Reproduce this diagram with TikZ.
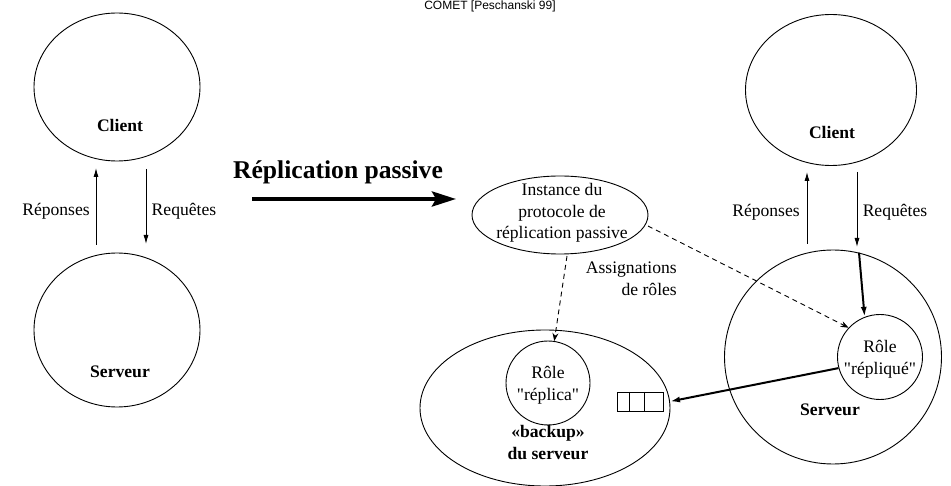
\documentclass[tikz,border=0pt]{standalone}
\usepackage{fontspec}
\setmainfont{Liberation Serif}
\newfontfamily\titlefont{Liberation Sans}
\usetikzlibrary{shapes.geometric,arrows.meta}

\begin{document}
\begin{tikzpicture}[x=1pt,y=-1pt,
  entity/.style={draw, ellipse, line width=0.9pt, inner sep=0pt},
  rolecircle/.style={draw, circle, line width=0.9pt, inner sep=0pt, minimum size=85pt},
  txt/.style={font=\fontsize{17.6}{21.5}\selectfont, align=center, inner sep=0pt},
  boldtxt/.style={txt, font=\fontsize{17.6}{21.5}\selectfont\bfseries},
  flow/.style={-{Latex[length=9pt,width=5pt]}, line width=0.9pt},
  heavyflow/.style={-{Latex[length=10pt,width=6pt]}, line width=2pt},
  assign/.style={-{Stealth[length=8pt,width=6pt]}, line width=0.9pt, dash pattern=on 5pt off 4pt},
  bigarrow/.style={-{Stealth[length=24pt,width=15pt,inset=4pt]}, line width=4pt}
]
\useasboundingbox (0,0) rectangle (951,486);

% title
\node[font=\titlefont\fontsize{12}{14}\selectfont, anchor=base, inner sep=0pt] (title) at (490,10) {COMET [Peschanski 99]};

% ---- classic client / server ----
\node[entity, minimum width=166pt, minimum height=148pt] (lclient) at (117,87) {};
\node[boldtxt] (lclientlbl) at (120,125) {Client};
\node[entity, minimum width=166pt, minimum height=154pt] (lserver) at (117,330) {};
\node[boldtxt] (lserverlbl) at (120,372) {Serveur};

\coordinate (lrepA) at (96,245);  \coordinate (lrepB) at (96,168);
\coordinate (lreqA) at (146,169); \coordinate (lreqB) at (146,244);
\draw[flow] (lrepA) -- (lrepB);
\draw[flow] (lreqA) -- (lreqB);
\node[txt] (lrep) at (56,211) {Réponses};
\node[txt] (lreq) at (184,211) {Requêtes};

% ---- transformation ----
\node[txt, font=\fontsize{25.6}{30}\selectfont\bfseries] (passive) at (338,172) {Réplication passive};
\coordinate (bigA) at (252,199); \coordinate (bigB) at (456,199);
\draw[bigarrow] (bigA) -- (bigB);

% ---- protocol instance ----
\node[entity, minimum width=176pt, minimum height=78pt] (inst) at (560,215) {};
\node[txt] (instlbl) at (562,213) {Instance du\\protocole de\\réplication passive};
\node[txt, align=right, anchor=east] (assignlbl) at (677,279) {Assignations\\de rôles};

% ---- backup ----
\node[entity, minimum width=250pt, minimum height=156pt] (backup) at (545,408) {};
\node[rolecircle, minimum size=84pt] (replica) at (548,383) {};
\node[txt] (replicalbl) at (548,385.5) {Rôle\\\textquotedbl réplica\textquotedbl};
\node[boldtxt] (backuplbl) at (548,442.5) {«backup»\\du serveur};

% message queue
\draw[line width=0.9pt] (617,392) rectangle (663,411);
\draw[line width=0.9pt] (629,392) -- (629,411) (644,392) -- (644,411);

% ---- replicated server ----
\node[entity, minimum width=171pt, minimum height=151pt] (rclient) at (831,90) {};
\node[boldtxt] (rclientlbl) at (832,132) {Client};
\node[entity, minimum width=217pt, minimum height=214pt] (rserver) at (833,357) {};
\node[boldtxt] (rserverlbl) at (830,410) {Serveur};
\node[rolecircle] (repl) at (880,357) {};
\node[txt] (repllbl) at (880,359.5) {Rôle\\\textquotedbl répliqué\textquotedbl};

\coordinate (rrepA) at (807,244); \coordinate (rrepB) at (807,172);
\coordinate (rreqA) at (857,172); \coordinate (rreqB) at (857,247);
\draw[flow] (rrepA) -- (rrepB);
\draw[flow] (rreqA) -- (rreqB);
\node[txt] (rrep) at (766,212) {Réponses};
\node[txt] (rreq) at (895,212) {Requêtes};

% requests forwarded to the replicated role, then state sent to the backup
\draw[heavyflow] (rserver.76) -- (repl.111);
\draw[heavyflow] (repl.195) -- (backup.3);

% role assignments
\coordinate (asgA) at (567,256);
\coordinate (asgB) at (648,226);
\draw[assign] (asgA) -- (replica);
\draw[assign] (asgB) -- (repl.137);
\end{tikzpicture}
\end{document}
